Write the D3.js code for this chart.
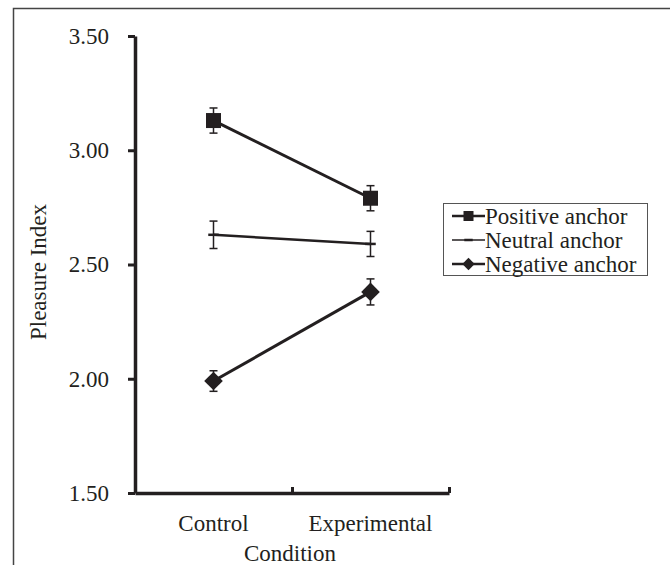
<!DOCTYPE html>
<html>
<head>
<meta charset="utf-8">
<script src="https://cdn.jsdelivr.net/npm/d3@7"></script>
<style>
  html, body { margin: 0; padding: 0; background: #fff; }
  svg { display: block; }
  svg text { font-family: "Liberation Serif", "Times New Roman", serif !important; fill: #231f20; }
</style>
</head>
<body>
<svg id="chart" width="670" height="565"></svg>
<script>
// ---- data ----
const categories = ["Control", "Experimental"];
const seriesNames = ["Positive anchor", "Neutral anchor", "Negative anchor"];
const seriesMarkers = ["square", "dash", "diamond"];
const positiveValues = [3.13, 2.79];
const positiveErrors = [0.055, 0.055];
const neutralValues = [2.63, 2.59];
const neutralErrors = [0.06, 0.055];
const negativeValues = [1.99, 2.38];
const negativeErrors = [0.045, 0.057];
const yTicks = [1.50, 2.00, 2.50, 3.00, 3.50];
const xTitle = "Condition";
const yTitle = "Pleasure Index";

const series = [
  { name: seriesNames[0], marker: seriesMarkers[0], values: positiveValues, errors: positiveErrors },
  { name: seriesNames[1], marker: seriesMarkers[1], values: neutralValues, errors: neutralErrors },
  { name: seriesNames[2], marker: seriesMarkers[2], values: negativeValues, errors: negativeErrors }
];

const ink = "#231f20";
const serif = "'Liberation Serif', 'Times New Roman', serif";
const svg = d3.select("#chart");

// outer frame (top + left)
svg.append("path")
  .attr("d", "M13.5,565 L13.5,8.5 L670,8.5")
  .attr("fill", "none").attr("stroke", "#444").attr("stroke-width", 1.5);

const x0 = 135, x1 = 449, yTop = 36, yBot = 493;
const x = d3.scaleBand().domain(categories).range([x0, x1]).padding(0);
const xb = d3.scaleLinear().domain([0, categories.length]).range([x0, x1]);
const y = d3.scaleLinear().domain([1.5, 3.5]).range([yBot, yTop]);

// y axis
const yAxis = svg.append("g").attr("transform", `translate(${x0},0)`)
  .call(d3.axisLeft(y).tickValues(yTicks).tickFormat(d3.format(".2f"))
    .tickSize(7).tickSizeOuter(0).tickPadding(19));
yAxis.attr("font-family", null);
yAxis.select(".domain").attr("stroke", ink).attr("stroke-width", 3.5);
yAxis.selectAll(".tick line").attr("stroke", ink).attr("stroke-width", 3);
yAxis.selectAll(".tick text").attr("font-size", 23).style("font-family", serif).attr("fill", ink);

// x axis (boundary ticks, pointing up)
const xAxis = svg.append("g").attr("transform", `translate(0,${yBot})`)
  .call(d3.axisBottom(xb).tickValues([1, 2]).tickFormat("").tickSize(-6).tickSizeOuter(0));
xAxis.select(".domain").attr("stroke", ink).attr("stroke-width", 3.5);
xAxis.selectAll(".tick line").attr("stroke", ink).attr("stroke-width", 3);

// category labels
const xLab = svg.append("g").attr("transform", `translate(0,${yBot})`)
  .call(d3.axisBottom(x).tickSize(0).tickPadding(22));
xLab.attr("font-family", null);
xLab.select(".domain").remove();
xLab.selectAll(".tick text").attr("font-size", 23).style("font-family", serif).attr("fill", ink)
  .attr("dy", "0.71em");

// titles
svg.append("text").attr("x", 290).attr("y", 561).attr("text-anchor", "middle")
  .attr("font-size", 23).style("font-family", serif).text(xTitle);
svg.append("text").attr("transform", "translate(46,272) rotate(-90)").attr("text-anchor", "middle")
  .attr("font-size", 23).style("font-family", serif).text(yTitle);

// series
const line = d3.line().x((d, i) => x(categories[i]) + x.bandwidth() / 2).y(d => y(d));
function drawMarker(g, type, cx, cy, s) {
  if (type === "square") {
    g.append("rect").attr("x", cx - s / 2).attr("y", cy - s / 2).attr("width", s).attr("height", s).attr("fill", ink);
  } else if (type === "diamond") {
    const r = s * 0.62;
    g.append("path").attr("d", `M${cx},${cy - r}L${cx + r},${cy}L${cx},${cy + r}L${cx - r},${cy}Z`).attr("fill", ink);
  } else if (type === "dash") {
    g.append("line").attr("x1", cx - s * 0.35).attr("x2", cx + s * 0.35).attr("y1", cy).attr("y2", cy)
      .attr("stroke", ink).attr("stroke-width", 2.5);
  }
}

series.forEach(s => {
  const g = svg.append("g");
  g.append("path").datum(s.values).attr("d", line).attr("fill", "none")
    .attr("stroke", ink).attr("stroke-width", s.marker === "dash" ? 2.5 : 3);
  s.values.forEach((v, i) => {
    const cx = x(categories[i]) + x.bandwidth() / 2;
    const hi = y(v + s.errors[i]), lo = y(v - s.errors[i]);
    g.append("line").attr("x1", cx).attr("x2", cx).attr("y1", hi).attr("y2", lo).attr("stroke", ink).attr("stroke-width", 1.5);
    [hi, lo].forEach(yy => g.append("line").attr("x1", cx - 4).attr("x2", cx + 4).attr("y1", yy).attr("y2", yy)
      .attr("stroke", ink).attr("stroke-width", 1.5));
    drawMarker(g, s.marker, cx, y(v), 15);
  });
});

// legend
const lg = svg.append("g");
lg.append("rect").attr("x", 443.5).attr("y", 203.5).attr("width", 204).attr("height", 72)
  .attr("fill", "#fff").attr("stroke", "#555").attr("stroke-width", 1);
series.forEach((s, i) => {
  const cy = 216 + i * 24;
  lg.append("line").attr("x1", 452).attr("x2", 485).attr("y1", cy).attr("y2", cy)
    .attr("stroke", ink).attr("stroke-width", s.marker === "dash" ? 1.5 : 2.5);
  drawMarker(lg, s.marker, 468.5, cy, s.marker === "dash" ? 12 : 10);
  lg.append("text").attr("x", 485).attr("y", cy + 8).attr("font-size", 23)
    .style("font-family", serif).text(s.name);
});
</script>
</body>
</html>
